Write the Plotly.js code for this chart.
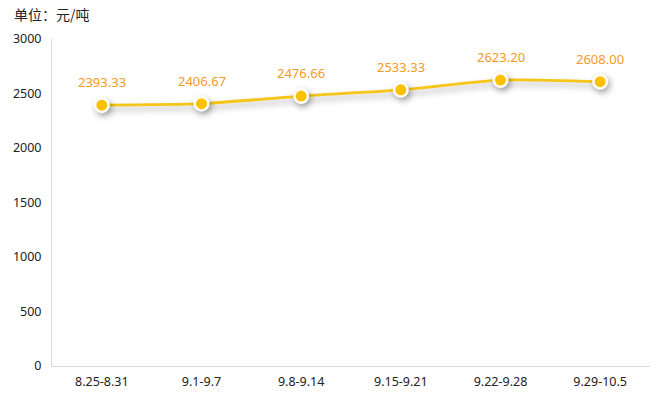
<!DOCTYPE html>
<html><head><meta charset="utf-8">
<script src="https://cdn.plot.ly/plotly-3.0.1.min.js"></script>
<style>
body{margin:0;background:#fff;}
#chart{width:659px;height:400px;}
.scatterlayer .trace .js-line{filter:drop-shadow(2px 4px 3px rgba(0,0,0,0.3));}
.scatterlayer .trace .points path{filter:drop-shadow(2px 3px 3px rgba(0,0,0,0.35));}
</style>
</head><body>
<div id="chart"></div>
<script>
const categories = ["8.25-8.31","9.1-9.7","9.8-9.14","9.15-9.21","9.22-9.28","9.29-10.5"];
const prices = [2393.33, 2406.67, 2476.66, 2533.33, 2623.20, 2608.00];
const priceLabels = ["2393.33","2406.67","2476.66","2533.33","2623.20","2608.00"];
const yTicks = [0,500,1000,1500,2000,2500,3000];

const font = "'Noto Sans','Noto Sans CJK SC',sans-serif";
const cjk = "'Noto Sans CJK SC','Noto Sans',sans-serif";

const labelAnns = categories.map((c,i)=>({
  x:c, y:prices[i], text:priceLabels[i], showarrow:false,
  yshift:23, yanchor:'middle', xanchor:'center',
  font:{color:'#F59A23', size:13, family:font}
}));

Plotly.newPlot('chart', [{
  type:'scatter', mode:'lines+markers',
  x: categories, y: prices,
  line:{color:'#F5C518', width:2.8, shape:'spline', smoothing:0.6},
  marker:{color:'#FFC000', size:13.5, line:{color:'#fff', width:2.5}},
  cliponaxis:false, hoverinfo:'none'
}], {
  width:659, height:400,
  margin:{l:52, r:9, t:39, b:34},
  paper_bgcolor:'#fff', plot_bgcolor:'#fff',
  showlegend:false,
  font:{family:font, size:12.5, color:'#222'},
  xaxis:{type:'category', range:[-0.5,5.5], showgrid:false, zeroline:false,
    showline:true, linecolor:'#d9d9d9', linewidth:1, ticks:'', ticklabelstandoff:4,
    tickfont:{size:12.5, color:'#222', family:font}},
  yaxis:{range:[0,3000], tickvals:yTicks, showgrid:false, zeroline:false,
    showline:true, linecolor:'#d9d9d9', linewidth:1, ticks:'', ticklabelstandoff:7,
    tickfont:{size:12.5, color:'#222', family:font}},
  annotations:[{text:'单位：元/吨', xref:'paper', yref:'paper', x:0, y:1,
    xshift:-40, yshift:25, xanchor:'left', yanchor:'middle', showarrow:false,
    font:{size:14, color:'#222', family:cjk}}].concat(labelAnns)
}, {staticPlot:true});
</script>
</body></html>
